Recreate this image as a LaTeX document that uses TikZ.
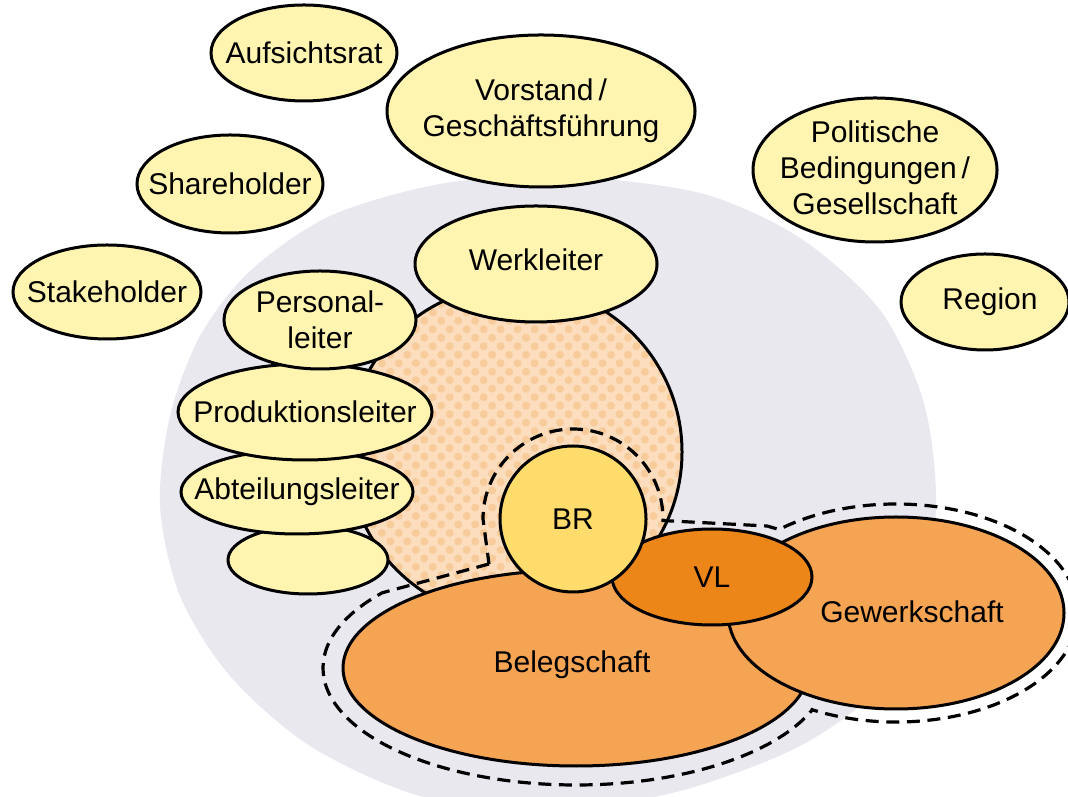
\documentclass[tikz,border=0pt]{standalone}
\usepackage{fontspec}
\setmainfont{Liberation Sans}
\usetikzlibrary{shapes.geometric,patterns.meta,calc}

\definecolor{blobyellow}{RGB}{255,244,176}
\definecolor{brgold}{RGB}{255,220,108}
\definecolor{stafforange}{RGB}{245,164,84}
\definecolor{vlorange}{RGB}{236,134,24}
\definecolor{peach}{RGB}{252,222,190}
\definecolor{peachdot}{RGB}{248,203,155}
\definecolor{discgrey}{RGB}{232,232,238}

\tikzset{
  blob/.style={ellipse, draw=black, line width=1.5pt, fill=blobyellow, inner sep=0pt},
  tag/.style={font=\fontsize{15pt}{18pt}\selectfont, align=center, inner sep=0pt},
  fence/.style={draw=black, line width=1.6pt, dash pattern=on 6.5pt off 3.8pt},
}

\begin{document}
\begin{tikzpicture}[x=0.5pt, y=0.5pt]
  \useasboundingbox (0,0) rectangle (1068,796);

  % Grey disc behind the plant
  \fill[discgrey] plot[smooth cycle] coordinates {
    (560,620) (700,603) (800,558) (880,486) (923,396) (936,300) (925,200)
    (880,110) (800,50) (680,5) (550,-15) (420,0) (310,50) (230,120)
    (180,200) (160,290) (170,380) (200,460) (250,525) (330,580) (440,612)};

  % Plant circle (peach, dotted)
  \coordinate (werkmid) at (515,344);
  \fill[peach] (werkmid) circle[radius=167];
  \fill[pattern={Dots[radius=2pt,distance=6pt,angle=45]}, pattern color=peachdot] (werkmid) circle[radius=167];
  \draw[line width=1.5pt] (werkmid) circle[radius=167];

  % Dashed fence round BR, Belegschaft and Gewerkschaft
  \coordinate (belegmid) at (576,128);
  \coordinate (gewerkmid) at (896,183);
  \coordinate (brmid) at (573,277);
  \draw[fence] (489,232) -- ($(belegmid)+(140:253 and 117)$)
    arc[start angle=140, end angle=339, x radius=253, y radius=117]
    -- ($(gewerkmid)+(242:182 and 109)$)
    arc[start angle=242, end angle=490, x radius=182, y radius=109]
    -- (767,270) -- ($(brmid)+(-1:90)$)
    arc[start angle=-1, end angle=180, radius=90] -- cycle;

  % Staff side
  \node[blob, fill=stafforange, minimum width=233pt, minimum height=98pt] (beleg) at (belegmid) {};
  \node[blob, fill=stafforange, minimum width=168pt, minimum height=96pt] (gewerk) at (gewerkmid) {};
  \node[blob, fill=vlorange, minimum width=100pt, minimum height=48pt] (vl) at (712,219) {};
  \node[circle, draw=black, line width=1.5pt, fill=brgold, minimum size=73pt, inner sep=0pt] (br) at (brmid) {};
  \node[tag] (beleg-t) at (572,131) {Belegschaft};
  \node[tag] (gewerk-t) at (912,184) {Gewerkschaft};
  \node[tag] (vl-t) at (vl) {VL};
  \node[tag] (br-t) at (br) {BR};

  % Management stack
  \node[blob, minimum width=80pt, minimum height=34pt] (blank) at (308,236) {};
  \node[blob, minimum width=116pt, minimum height=42pt] (abteilung) at (297,304) {};
  \node[blob, minimum width=127pt, minimum height=48pt] (produktion) at (305,384) {};
  \node[blob, minimum width=96pt, minimum height=49pt] (personal) at (320,476) {};
  \node[blob, minimum width=121pt, minimum height=58pt] (werk) at (536,532) {};
  \node[tag] (abteilung-t) at (abteilung) {Abteilungsleiter};
  \node[tag] (produktion-t) at (produktion) {Produktionsleiter};
  \node[tag] (personal-t) at (personal) {Personal-\\leiter};
  \node[tag] (werk-t) at (536,536) {Werkleiter};

  % Outside actors
  \node[blob, minimum width=93pt, minimum height=48pt] (aufsicht) at (304,743) {};
  \node[blob, minimum width=154pt, minimum height=76pt] (vorstand) at (541,685) {};
  \node[blob, minimum width=93pt, minimum height=49pt] (share) at (230,612) {};
  \node[blob, minimum width=94pt, minimum height=47pt] (stake) at (107,504) {};
  \node[blob, minimum width=122pt, minimum height=72pt] (politik) at (875,626) {};
  \node[blob, minimum width=84pt, minimum height=48pt] (region) at (985,494) {};
  \node[tag] (aufsicht-t) at (aufsicht) {Aufsichtsrat};
  \node[tag] (vorstand-t) at (vorstand) {Vorstand\,/\\Geschäftsführung};
  \node[tag] (share-t) at (share) {Shareholder};
  \node[tag] (stake-t) at (stake) {Stakeholder};
  \node[tag] (politik-t) at (875,628) {Politische\\Bedingungen\,/\\Gesellschaft};
  \node[tag] (region-t) at (990,494) {Region};

\end{tikzpicture}
\end{document}
